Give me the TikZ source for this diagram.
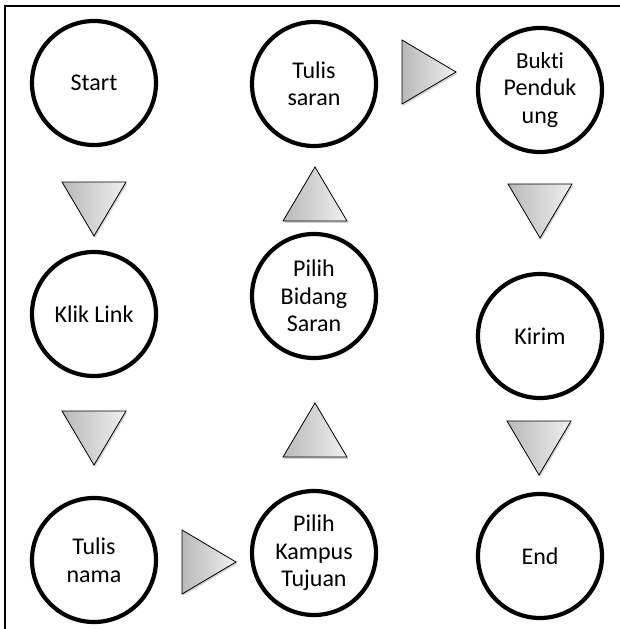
\documentclass[tikz,border=0pt]{standalone}
\usepackage{fontspec}
\setmainfont[Ligatures=CommonOff]{Carlito}
\usetikzlibrary{shadows}
\begin{document}
\begin{tikzpicture}[x=1pt,y=-1pt,
  stepnode/.style={circle,draw=black,line width=4.2pt,minimum size=124pt,inner sep=0pt,
    align=center,text=black,font=\fontsize{24}{27.5}\selectfont},
  tri/.style={draw=black,line width=0.8pt,left color=gray!55,right color=gray!12,
    drop shadow={shadow xshift=1.2pt,shadow yshift=-1.8pt,opacity=0.35,fill=gray}},
  pics/arrowtri/.style={code={\path[tri] (0,-32) -- (54,0) -- (0,32) -- cycle;}}
]
\useasboundingbox (0,0) rectangle (620,629);
\draw[line width=2pt] (4.5,629) -- (4.5,5.5) -- (620,5.5);

\node[stepnode] (start) at (94,83) {Start};
\node[stepnode] (saran) at (314,84) {Tulis\\saran};
\node[stepnode] (bukti) at (540,90) {\fontsize{23}{26.5}\selectfont Bukti\\Penduk\\ung};
\node[stepnode] (klik) at (94,314) {Klik Link};
\node[stepnode] (bidang) at (314,296) {Pilih\\Bidang\\Saran};
\node[stepnode] (kirim) at (540,336) {Kirim};
\node[stepnode] (nama) at (94,560) {Tulis\\nama};
\node[stepnode] (kampus) at (314,553) {Pilih\\Kampus\\Tujuan};
\node[stepnode] (end) at (540,556) {End};

\pic[rotate=-90] (t1) at (94,182) {arrowtri};
\pic[rotate=-90] (t2) at (94,411) {arrowtri};
\pic (t3) at (182,562) {arrowtri};
\pic[rotate=90] (t4) at (315,457) {arrowtri};
\pic[rotate=90] (t5) at (315,221) {arrowtri};
\pic (t6) at (402,72) {arrowtri};
\pic[rotate=-90] (t7) at (540,184) {arrowtri};
\pic[rotate=-90] (t8) at (539,421) {arrowtri};
\end{tikzpicture}
\end{document}
